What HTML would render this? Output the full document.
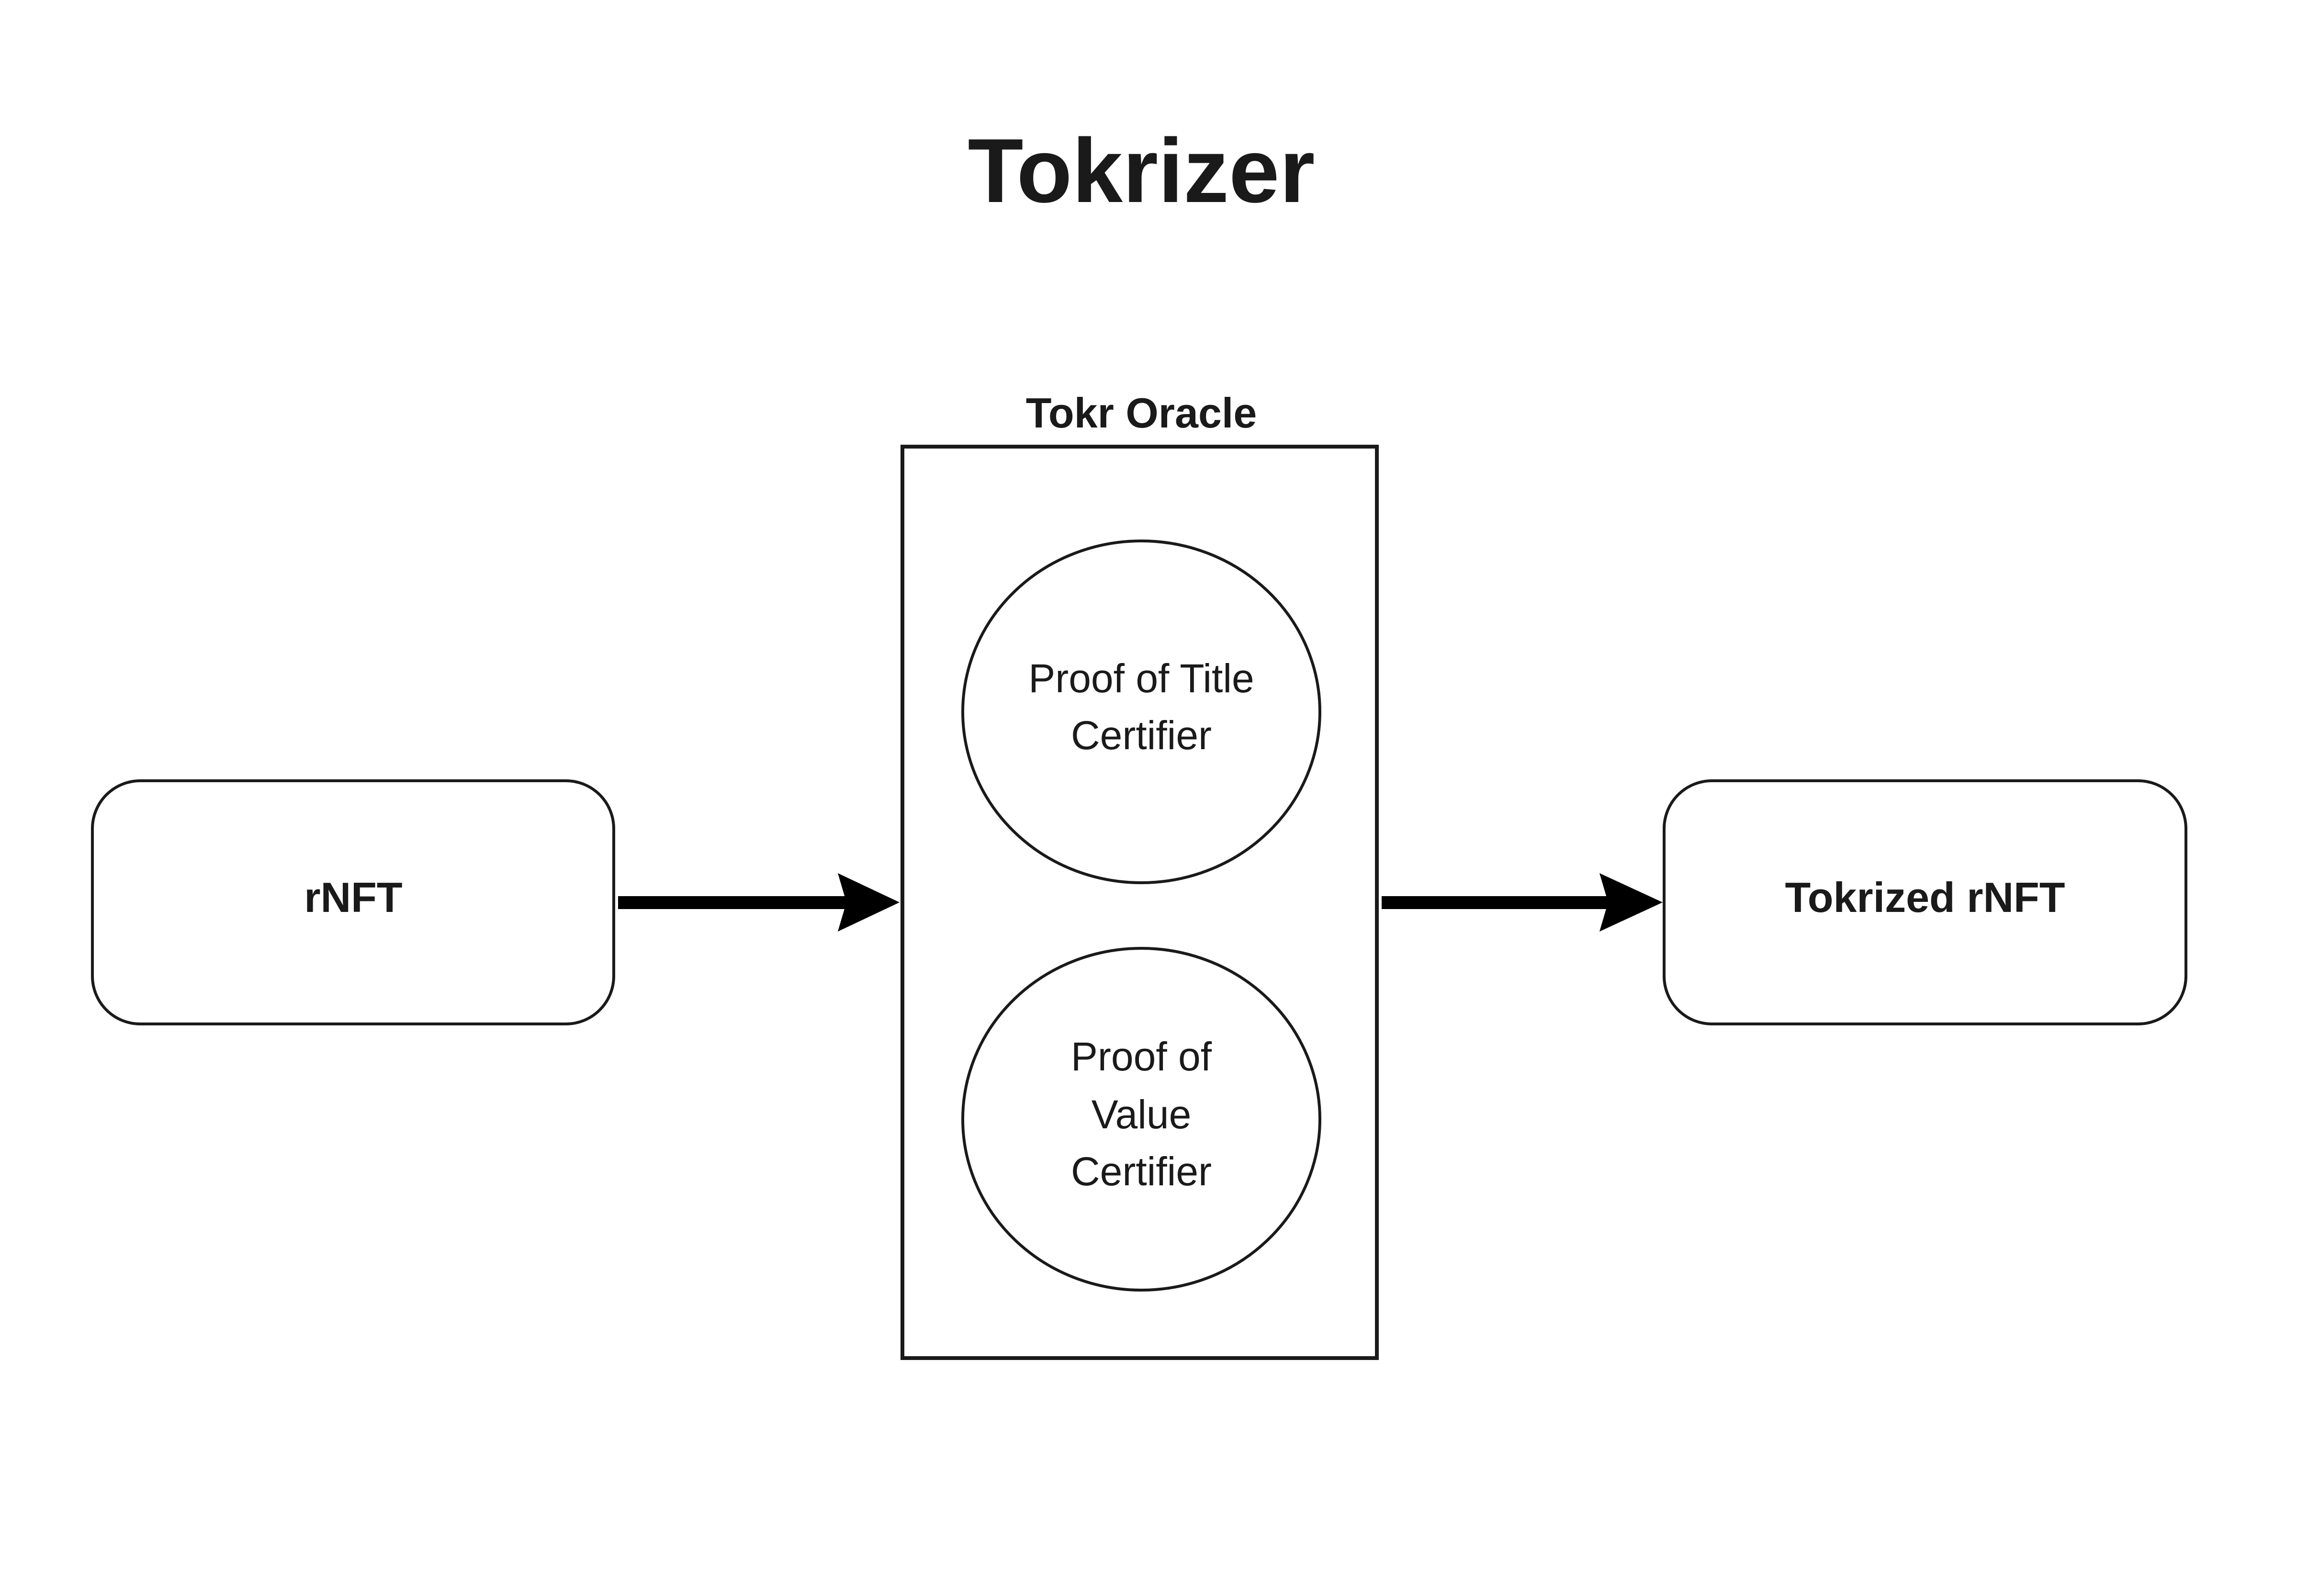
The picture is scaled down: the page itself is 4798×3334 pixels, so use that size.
<!DOCTYPE html>
<html><head><meta charset="utf-8"><style>
html,body{margin:0;padding:0;background:#fff;}
svg{display:block;}
text{font-family:"Liberation Sans","DejaVu Sans",sans-serif;fill:#1a1a1a;}
</style></head><body>
<svg width="4798" height="3334" viewBox="0 0 4798 3334" xmlns="http://www.w3.org/2000/svg">
<rect width="4798" height="3334" fill="#fff"/>
<text x="2384" y="422" font-size="190" font-weight="bold" text-anchor="middle">Tokrizer</text>
<text x="2384" y="893" font-size="88" font-weight="bold" text-anchor="middle">Tokr Oracle</text>
<rect x="1885" y="933" width="991" height="1904" fill="none" stroke="#1a1a1a" stroke-width="8"/>
<ellipse cx="2384" cy="1487" rx="373" ry="357" fill="none" stroke="#1a1a1a" stroke-width="6"/>
<ellipse cx="2384" cy="2338" rx="373" ry="357" fill="none" stroke="#1a1a1a" stroke-width="6"/>
<text x="2384" y="1446" font-size="84" text-anchor="middle">Proof of Title</text>
<text x="2384" y="1565" font-size="84" text-anchor="middle">Certifier</text>
<text x="2384" y="2236" font-size="84" text-anchor="middle">Proof of</text>
<text x="2384" y="2357" font-size="84" text-anchor="middle">Value</text>
<text x="2384" y="2476" font-size="84" text-anchor="middle">Certifier</text>
<rect x="193" y="1631" width="1089" height="508" rx="100" fill="none" stroke="#1a1a1a" stroke-width="6"/>
<rect x="3476" y="1631" width="1090" height="508" rx="100" fill="none" stroke="#1a1a1a" stroke-width="6"/>
<text x="738" y="1905" font-size="88" font-weight="bold" text-anchor="middle">rNFT</text>
<text x="4021" y="1905" font-size="88" font-weight="bold" text-anchor="middle">Tokrized rNFT</text>
<rect x="1291" y="1872" width="480" height="27" fill="#000"/>
<polygon points="1750,1824 1879,1885 1750,1946 1768,1885" fill="#000"/>
<rect x="2886" y="1872" width="475" height="27" fill="#000"/>
<polygon points="3341,1824 3473,1885 3341,1946 3359,1885" fill="#000"/>
</svg>
</body></html>
